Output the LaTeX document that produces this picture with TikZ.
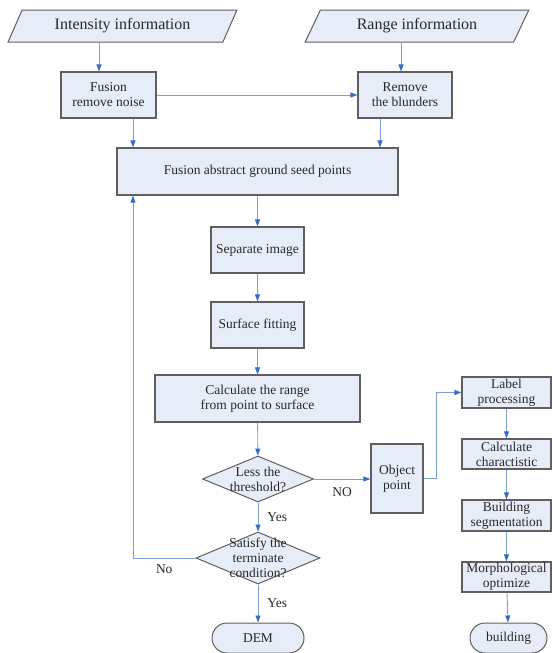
\documentclass[tikz,border=0pt]{standalone}
\usepackage{fontspec}
\setmainfont{Liberation Serif}
\newfontfamily\figfont{Liberation Serif}
\usetikzlibrary{shapes.geometric, shapes.misc, arrows.meta, calc, positioning}
\definecolor{boxfill}{RGB}{231,237,248}
\definecolor{boxline}{RGB}{95,95,95}
\definecolor{flow}{RGB}{125,158,212}
\definecolor{tipblue}{RGB}{55,108,200}
\definecolor{txt}{RGB}{40,40,40}

\begin{document}
\begin{tikzpicture}[x=1pt, y=-1pt,
    every node/.style={font=\figfont\fontsize{13.5}{15}\selectfont, text=txt},
    box/.style={rectangle, draw=boxline, line width=1.1pt, fill=boxfill, align=center, inner sep=1pt},
    inbox/.style={trapezium, trapezium left angle=65, trapezium right angle=115,
        trapezium stretches=true, draw=boxline, line width=1pt, fill=boxfill,
        minimum height=32pt, font=\figfont\fontsize{16}{18}\selectfont},
    decision/.style={diamond, draw=boxline, line width=1pt, fill=boxfill, inner sep=0pt},
    terminal/.style={rounded rectangle, draw=boxline, line width=1pt, fill=boxfill,
        minimum height=30pt, inner sep=1pt},
    flowline/.style={draw=flow, line width=0.9pt, -{Triangle[length=7pt, width=5pt, color=tipblue]}},
    answer/.style={inner sep=1pt}]
    \useasboundingbox (0,0) rectangle (552,653);

    % Input data
    \node[inbox, minimum width=229pt] (intens) at (122.5,26) {Intensity information};
    \node[inbox, minimum width=224pt] (range) at (417,26) {Range information};

    % Preprocessing
    \node[box, minimum width=95pt, minimum height=46pt] (noise) at (108.5,95) {Fusion\\remove noise};
    \node[box, minimum width=94pt, minimum height=46pt] (blunder) at (405,95) {Remove\\the blunders};

    % Ground filtering loop
    \node[box, minimum width=281pt, minimum height=47pt] (seed) at (257.5,171.5) {Fusion abstract ground seed points};
    \node[box, minimum width=93pt, minimum height=46pt] (sep) at (257.5,250) {Separate image};
    \node[box, minimum width=93pt, minimum height=46pt] (fit) at (257.5,325) {Surface fitting};
    \node[box, minimum width=205pt, minimum height=47pt] (calc) at (257.5,398.5) {Calculate the range\\from point to surface};
    \node[decision, minimum width=111pt, minimum height=46pt,
        label={[align=center, inner sep=0pt]center:Less the\\threshold?}] (less) at (258,479) {};
    \node[decision, minimum width=124pt, minimum height=52pt,
        label={[align=center, inner sep=0pt]center:Satisfy the\\terminate\\condition?}] (satisfy) at (258,558) {};
    \node[terminal, minimum width=94pt] (dem) at (258,638) {DEM};

    % Building branch
    \node[box, minimum width=52pt, minimum height=69pt] (obj) at (397,478.5) {Object\\point};
    \node[box, minimum width=89pt, minimum height=31pt, inner sep=0pt] (label) at (506.5,392.5) {Label\\processing};
    \node[box, minimum width=89pt, minimum height=30pt, inner sep=0pt] (charac) at (506.5,454) {Calculate\\charactistic};
    \node[box, minimum width=89pt, minimum height=31pt, inner sep=0pt] (seg) at (506.5,515.5) {Building\\segmentation};
    \node[box, minimum width=89pt, minimum height=30pt, inner sep=0pt] (morph) at (506.5,577) {Morphological\\optimize};
    \node[terminal, minimum width=79pt] (bldg) at (508.5,638) {building};

    % Offsets of the side arrows
    \coordinate (n1) at ([xshift=-9.5pt]noise.north);
    \coordinate (b1) at ([xshift=-4pt]blunder.north);
    \coordinate (n2) at ([xshift=24.5pt]noise.south);
    \coordinate (b2) at ([xshift=-25pt]blunder.south);

    % Connectors
    \draw[flowline] (n1 |- intens.south) -- (n1);
    \draw[flowline] (b1 |- range.south) -- (b1);
    \draw[flowline] (noise.east) -- (blunder.west);
    \draw[flowline] (n2) -- (n2 |- seed.north);
    \draw[flowline] (b2) -- (b2 |- seed.north);
    \draw[flowline] (seed) -- (sep);
    \draw[flowline] (sep) -- (fit);
    \draw[flowline] (fit) -- (calc);
    \draw[flowline] (calc) -- (less);
    \draw[flowline] (less.east) -- (less.east -| obj.west) node[answer, midway, below=7pt]{NO};
    \draw[flowline] (less) -- (satisfy) node[answer, midway, right=8pt]{Yes};
    \draw[flowline] (satisfy) -- (dem) node[answer, midway, right=8pt]{Yes};
    \draw[flowline] (satisfy.west) -| (n2 |- seed.south) node[answer, pos=0.25, below=5pt]{No};
    \draw[flowline] (obj.east) -- ++(13,0) |- (label.west);
    \draw[flowline] (label) -- (charac);
    \draw[flowline] (charac) -- (seg);
    \draw[flowline] (seg) -- (morph);
    \draw[flowline] (morph) -- (bldg);
\end{tikzpicture}
\end{document}
